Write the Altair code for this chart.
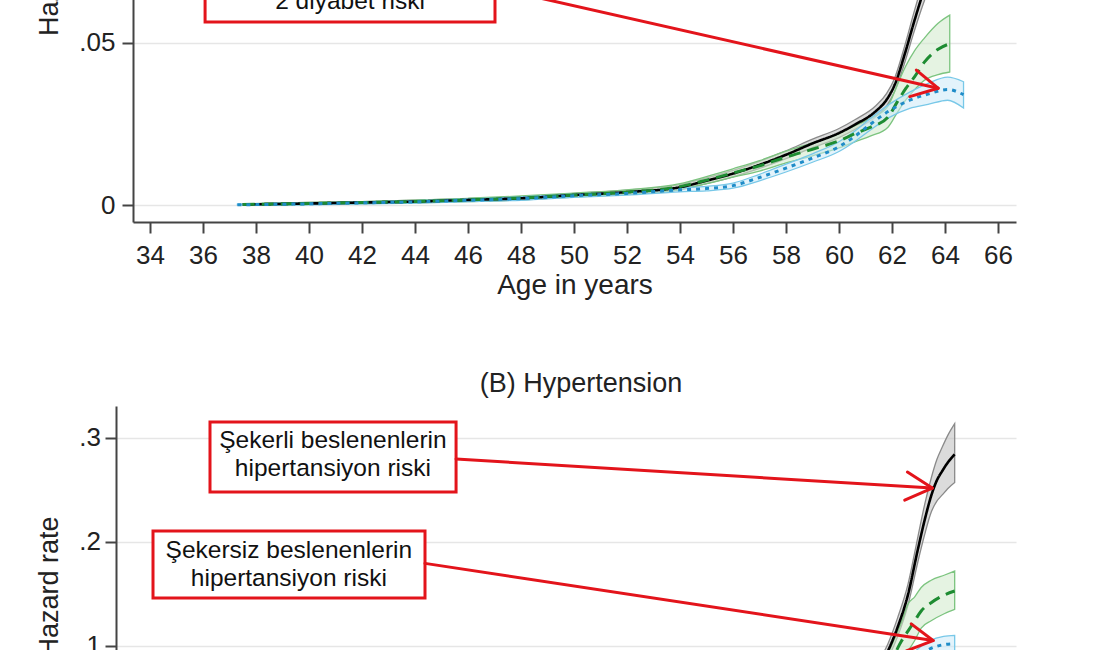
import altair as alt
import pandas as pd

FONT = "Liberation Sans"
RED = "#e3141b"
TXT = "#222222"

# x axis (age) ticks
x_ticks = [34, 36, 38, 40, 42, 44, 46, 48, 50, 52, 54, 56, 58, 60, 62, 64, 66]
x_domain = [33.36, 66.68]

# ---------------- Panel A: Type 2 diabetes ----------------
A_y_ticks = [0, 0.05, 0.1, 0.15]
A_y_domain = [-0.0052, 0.1531]

A_black_age = [37.5, 40, 42, 44, 46, 48, 50, 52, 54, 55, 56, 57, 58, 59, 60, 60.6, 61.4, 61.8, 62.1, 62.5, 62.8, 63.1, 63.5, 64.0]
A_black_hr = [0.0002, 0.0005, 0.0008, 0.0011, 0.0016, 0.0021, 0.0031, 0.0040, 0.0055, 0.0075, 0.0097, 0.0124, 0.0155, 0.0190, 0.0222, 0.0248, 0.0290, 0.0325, 0.0370, 0.0470, 0.0555, 0.0635, 0.0730, 0.0850]
A_black_lo = [0.0000, 0.0002, 0.0005, 0.0007, 0.0012, 0.0016, 0.0026, 0.0034, 0.0047, 0.0066, 0.0087, 0.0113, 0.0143, 0.0177, 0.0208, 0.0233, 0.0273, 0.0306, 0.0349, 0.0444, 0.0525, 0.0601, 0.0690, 0.0800]
A_black_hi = [0.0004, 0.0008, 0.0011, 0.0015, 0.0020, 0.0026, 0.0036, 0.0046, 0.0063, 0.0084, 0.0107, 0.0135, 0.0167, 0.0203, 0.0236, 0.0263, 0.0307, 0.0344, 0.0391, 0.0496, 0.0585, 0.0669, 0.0770, 0.0900]

A_green_age = [37.5, 40, 42, 44, 46, 48, 50, 52, 54, 55, 56, 57, 58, 59, 60, 60.6, 61.2, 61.85, 62.2, 62.53, 62.85, 63.23, 63.74, 64.18]
A_green_hr = [0.0002, 0.0005, 0.0008, 0.0011, 0.0016, 0.0022, 0.0031, 0.0040, 0.0057, 0.0077, 0.0099, 0.0121, 0.0148, 0.0172, 0.0198, 0.0220, 0.0240, 0.0271, 0.0318, 0.0360, 0.0395, 0.0441, 0.0480, 0.0497]
A_green_lo = [0.0000, 0.0002, 0.0005, 0.0007, 0.0011, 0.0016, 0.0025, 0.0033, 0.0048, 0.0066, 0.0086, 0.0105, 0.0130, 0.0152, 0.0176, 0.0195, 0.0213, 0.0240, 0.0285, 0.0325, 0.0355, 0.0385, 0.0402, 0.0410]
A_green_hi = [0.0004, 0.0008, 0.0011, 0.0015, 0.0021, 0.0028, 0.0037, 0.0047, 0.0066, 0.0088, 0.0112, 0.0137, 0.0166, 0.0192, 0.0220, 0.0245, 0.0267, 0.0305, 0.0370, 0.0430, 0.0475, 0.0515, 0.0560, 0.0585]

A_blue_age = [37.3, 40, 42, 44, 46, 48, 50, 52, 54, 55, 56, 57, 58, 59, 60, 60.6, 61.2, 61.85, 62.67, 63.36, 64.1, 64.7]
A_blue_hr = [0.0001, 0.0004, 0.0007, 0.0010, 0.0015, 0.0020, 0.0029, 0.0036, 0.0047, 0.0051, 0.0060, 0.0085, 0.0114, 0.0145, 0.0180, 0.0212, 0.0250, 0.0288, 0.0323, 0.0342, 0.0356, 0.0340]
A_blue_lo = [0.0000, 0.0001, 0.0004, 0.0006, 0.0011, 0.0015, 0.0024, 0.0031, 0.0041, 0.0044, 0.0052, 0.0075, 0.0102, 0.0132, 0.0165, 0.0196, 0.0232, 0.0268, 0.0298, 0.0310, 0.0323, 0.0299]
A_blue_hi = [0.0003, 0.0007, 0.0010, 0.0014, 0.0019, 0.0025, 0.0034, 0.0041, 0.0053, 0.0058, 0.0068, 0.0095, 0.0126, 0.0158, 0.0195, 0.0228, 0.0268, 0.0308, 0.0348, 0.0375, 0.0394, 0.0380]

A_box_x = [36.08]
A_box_x2 = [47.02]
A_box_y = [0.0564]
A_box_y2 = [0.0770]
A_box_text = ["Şekersiz beslenenlerin tip\n2 diyabet riski"]
A_box_tx = [41.55]
A_box_ty = [0.0712]

A_arrow_x = [47.02, 63.74, 63.74]
A_arrow_y = [0.0669, 0.0360, 0.0360]
A_arrow_x2 = [63.74, 62.92, 62.67]
A_arrow_y2 = [0.0360, 0.0416, 0.0334]

# ---------------- Panel B: Hypertension ----------------
B_y_ticks = [0, 0.1, 0.2, 0.3]
B_y_domain = [-0.0166, 0.3305]

B_black_age = [37.5, 40, 44, 48, 52, 55, 57, 59, 60, 61, 61.5, 61.94, 62.3, 62.68, 63.05, 63.3, 63.55, 63.75, 63.95, 64.15, 64.41]
B_black_hr = [0.0005, 0.001, 0.002, 0.004, 0.007, 0.012, 0.018, 0.030, 0.040, 0.058, 0.075, 0.095, 0.118, 0.149, 0.193, 0.221, 0.245, 0.259, 0.268, 0.276, 0.284]
B_black_lo = [0.0, 0.0005, 0.0014, 0.0032, 0.006, 0.0105, 0.016, 0.027, 0.036, 0.053, 0.069, 0.088, 0.109, 0.139, 0.181, 0.207, 0.229, 0.239, 0.245, 0.251, 0.257]
B_black_hi = [0.001, 0.0015, 0.0026, 0.0048, 0.008, 0.0135, 0.020, 0.033, 0.044, 0.063, 0.081, 0.102, 0.127, 0.159, 0.205, 0.236, 0.262, 0.279, 0.291, 0.302, 0.3135]

B_green_age = [37.5, 40, 44, 48, 52, 55, 57, 59, 60, 61, 61.6, 62.0, 62.43, 62.68, 62.93, 63.17, 63.54, 64.04, 64.41]
B_green_hr = [0.0005, 0.001, 0.002, 0.0035, 0.006, 0.010, 0.015, 0.024, 0.032, 0.048, 0.065, 0.082, 0.104, 0.114, 0.124, 0.1334, 0.1414, 0.149, 0.1526]
B_green_lo = [0.0, 0.0005, 0.0014, 0.0028, 0.005, 0.0085, 0.013, 0.021, 0.028, 0.041, 0.055, 0.068, 0.086, 0.095, 0.105, 0.117, 0.124, 0.131, 0.135]
B_green_hi = [0.001, 0.0015, 0.0026, 0.0042, 0.007, 0.0115, 0.017, 0.027, 0.036, 0.055, 0.075, 0.096, 0.122, 0.140, 0.147, 0.156, 0.163, 0.168, 0.1718]

B_blue_age = [37.5, 40, 44, 48, 52, 55, 57, 59, 60, 61, 62, 62.6, 63.0, 63.5, 64.0, 64.41]
B_blue_hr = [0.0005, 0.001, 0.002, 0.003, 0.005, 0.008, 0.012, 0.020, 0.027, 0.040, 0.060, 0.077, 0.088, 0.097, 0.101, 0.102]
B_blue_lo = [0.0, 0.0005, 0.0014, 0.0024, 0.004, 0.0065, 0.010, 0.017, 0.023, 0.035, 0.053, 0.069, 0.080, 0.089, 0.093, 0.094]
B_blue_hi = [0.001, 0.0015, 0.0026, 0.0036, 0.006, 0.0095, 0.014, 0.023, 0.031, 0.045, 0.067, 0.085, 0.096, 0.105, 0.109, 0.110]

B_box_x = [36.84, 34.73]
B_box_x2 = [45.95, 44.80]
B_box_y = [0.2478, 0.1459]
B_box_y2 = [0.3151, 0.2103]
B_box_text = ["Şekerli beslenenlerin\nhipertansiyon riski", "Şekersiz beslenenlerin\nhipertansiyon riski"]
B_box_tx = [41.39, 39.76]
B_box_ty = [0.2968, 0.1911]

B_arrow_x = [45.95, 63.58, 63.58, 44.80, 63.61, 63.61]
B_arrow_y = [0.2795, 0.2516, 0.2516, 0.1792, 0.1050, 0.1050]
B_arrow_x2 = [63.58, 62.66, 62.56, 63.61, 62.80, 62.62]
B_arrow_y2 = [0.2516, 0.2670, 0.2400, 0.1050, 0.1210, 0.0950]

STYLES = {
    "black": dict(line="#000000", fill="#bdbdbd", edge="#8a8a8a", dash=[1, 0], width=2.6),
    "green": dict(line="#1e8c32", fill="#cfe9cb", edge="#7cc47f", dash=[12, 7], width=3),
    "blue": dict(line="#1f8cc8", fill="#cce9f7", edge="#78c8e8", dash=[4, 5], width=3),
}


def series_df(age, hr, lo, hi):
    return pd.DataFrame({"age": age, "hr": hr, "lo": lo, "hi": hi})


def panel(series, ydom, yticks, boxes, arrows, width, height, label_pad, x_range, y_offset,
          title=None):
    xs = alt.Scale(domain=x_domain, range=x_range, nice=False, zero=False)
    ys = alt.Scale(domain=ydom, nice=False, zero=False)
    xax = alt.Axis(values=x_ticks, title="Age in years", grid=False, tickSize=11,
                   labelFontSize=26, titleFontSize=28, labelPadding=9, titlePadding=3,
                   labelFlush=False, labelOverlap=False, domainColor="#444", tickColor="#444",
                   domainWidth=2, tickWidth=2, labelColor=TXT, titleColor=TXT,
                   titleFontWeight="normal", labelFont=FONT, titleFont=FONT)
    yax = alt.Axis(values=yticks, title="Hazard rate", grid=True, gridColor="#e6e6e6",
                   gridWidth=1.6, tickSize=11, labelFontSize=26, titleFontSize=27,
                   labelPadding=label_pad, titlePadding=15, domainColor="#444",
                   tickColor="#444", domainWidth=2, tickWidth=2, labelColor=TXT,
                   titleColor=TXT, titleFontWeight="normal", labelFont=FONT, titleFont=FONT,
                   offset=y_offset,
                   labelExpr="datum.value == 0 ? '0' : replace(format(datum.value, '.2~f'), '0.', '.')")
    layers = []
    first = True
    for key, df in series:
        st = STYLES[key]
        base = alt.Chart(df)
        if first:
            xenc = alt.X("age:Q", scale=xs, axis=xax)
            yenc = alt.Y("lo:Q", scale=ys, axis=yax)
        else:
            xenc = alt.X("age:Q", scale=xs)
            yenc = alt.Y("lo:Q", scale=ys)
        layers.append(base.mark_area(fill=st["fill"], fillOpacity=0.55, stroke=st["edge"],
                                     strokeWidth=1.3, interpolate="monotone", clip=True).encode(
            x=xenc, y=yenc, y2="hi:Q"))
        first = False
    for key, df in series:
        st = STYLES[key]
        layers.append(alt.Chart(df).mark_line(color=st["line"], strokeWidth=st["width"],
                                              strokeDash=st["dash"], interpolate="monotone",
                                              clip=True).encode(
            x=alt.X("age:Q", scale=xs), y=alt.Y("hr:Q", scale=ys)))
    bx = pd.DataFrame(boxes)
    layers.append(alt.Chart(bx).mark_rect(fill="white", stroke=RED, strokeWidth=3, clip=True).encode(
        x=alt.X("x:Q", scale=xs), x2="x2:Q", y=alt.Y("y:Q", scale=ys), y2="y2:Q"))
    layers.append(alt.Chart(bx).mark_text(font=FONT, fontSize=24.5, color="#111", lineHeight=28,
                                          lineBreak="\n", align="center", baseline="middle",
                                          clip=True).encode(
        x=alt.X("tx:Q", scale=xs), y=alt.Y("ty:Q", scale=ys), text="text:N"))
    ar = pd.DataFrame(arrows)
    layers.append(alt.Chart(ar).mark_rule(color=RED, strokeWidth=3, strokeCap="round", clip=True).encode(
        x=alt.X("x:Q", scale=xs), y=alt.Y("y:Q", scale=ys), x2="x2:Q", y2="y2:Q"))
    props = dict(width=width, height=height)
    if title is not None:
        props["title"] = title
    return alt.layer(*layers).properties(**props)


top = panel(
    [("black", series_df(A_black_age, A_black_hr, A_black_lo, A_black_hi)),
     ("green", series_df(A_green_age, A_green_hr, A_green_lo, A_green_hi)),
     ("blue", series_df(A_blue_age, A_blue_hr, A_blue_lo, A_blue_hi))],
    A_y_domain, A_y_ticks,
    dict(x=A_box_x, x2=A_box_x2, y=A_box_y, y2=A_box_y2, text=A_box_text, tx=A_box_tx, ty=A_box_ty),
    dict(x=A_arrow_x, y=A_arrow_y, x2=A_arrow_x2, y2=A_arrow_y2),
    900, 514, 7, [17, 900], -17)

bottom = panel(
    [("black", series_df(B_black_age, B_black_hr, B_black_lo, B_black_hi)),
     ("green", series_df(B_green_age, B_green_hr, B_green_lo, B_green_hi)),
     ("blue", series_df(B_blue_age, B_blue_hr, B_blue_lo, B_blue_hi))],
    B_y_domain, B_y_ticks,
    dict(x=B_box_x, x2=B_box_x2, y=B_box_y, y2=B_box_y2, text=B_box_text, tx=B_box_tx, ty=B_box_ty),
    dict(x=B_arrow_x, y=B_arrow_y, x2=B_arrow_x2, y2=B_arrow_y2),
    900, 361, 4.5, [0, 900], 0,
    title=alt.Title("(B) Hypertension", fontSize=27, font=FONT, fontWeight="normal",
                    color=TXT, offset=8, dx=15, anchor="middle"))

chart = alt.vconcat(
    top, bottom, spacing=71,
    padding={"top": -295, "bottom": -190, "left": 35, "right": 20},
    background="white",
).configure(font=FONT).configure_view(stroke=None)

chart.save("out.html", embed_options={"renderer": "svg", "actions": False})
